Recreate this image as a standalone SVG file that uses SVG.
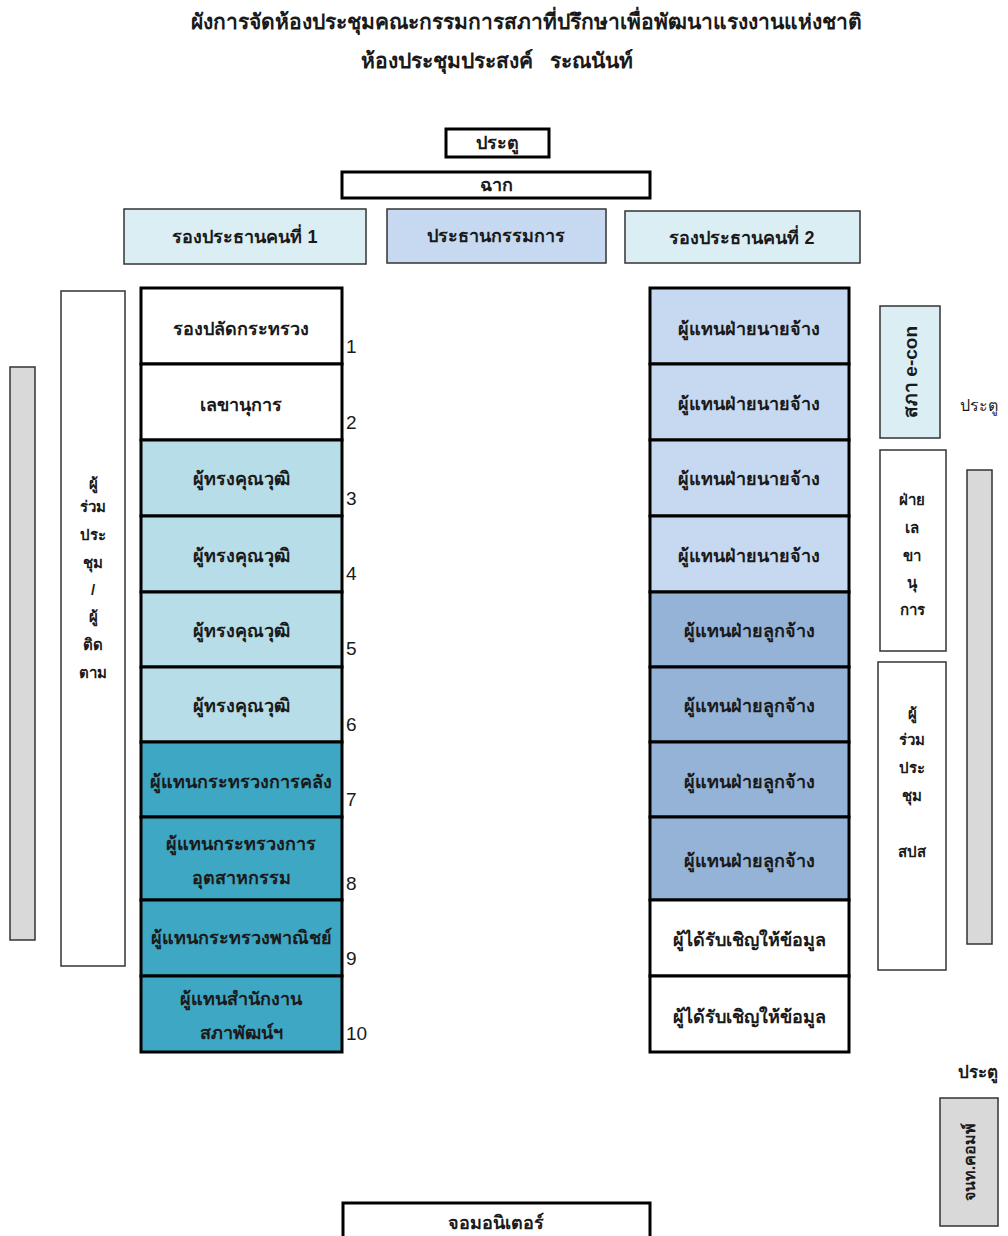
<svg xmlns="http://www.w3.org/2000/svg" width="1008" height="1236" viewBox="0 0 1008 1236">
<style>
text{font-family:"Liberation Sans","DejaVu Sans","Noto Sans",sans-serif;fill:#1a1a1a}
.t{font-size:21px;font-weight:bold;text-anchor:middle}
.b{font-size:18px;font-weight:bold;text-anchor:middle}
.n{font-size:19px;text-anchor:start}
.s{font-size:15px;font-weight:bold;text-anchor:middle}
.thick{stroke:#000;stroke-width:3}
.thin{stroke:#333;stroke-width:1.5}
.w{fill:#fff}.c1{fill:#DAEEF3}.c2{fill:#C6D9F1}.q{fill:#B7DDE8}.tl{fill:#3EA7C3}.lb{fill:#C6D9F1}.db{fill:#95B3D7}.g{fill:#D9D9D9}
</style>
<rect width="1008" height="1236" fill="#fff"/>
<g id="title">
<text class="t" x="526" y="29">ผังการจัดห้องประชุมคณะกรรมการสภาที่ปรึกษาเพื่อพัฒนาแรงงานแห่งชาติ</text>
<text class="t" x="497" y="68" xml:space="preserve">ห้องประชุมประสงค์   ระณนันท์</text>
</g>
<g id="door-top"><rect class="w thick" x="446" y="129" width="103" height="28"/><text class="b" x="497" y="149">ประตู</text></g>
<g id="screen"><rect class="w thick" x="342" y="172" width="308" height="26"/><text class="b" x="496" y="191">ฉาก</text></g>
<g id="vice1"><rect class="c1 thin" x="124" y="209" width="242" height="55"/><text class="b" x="245" y="243">รองประธานคนที่ 1</text></g>
<g id="chair"><rect class="c2 thin" x="387" y="209" width="219" height="54"/><text class="b" x="496" y="242">ประธานกรรมการ</text></g>
<g id="vice2"><rect class="c1 thin" x="625" y="211" width="235" height="52"/><text class="b" x="742" y="244">รองประธานคนที่ 2</text></g>

<g id="left-column">
<g id="L1"><rect class="w thick" x="141" y="288" width="201" height="76"/><text class="b" x="241" y="335">รองปลัดกระทรวง</text><text class="n" x="346" y="353">1</text></g>
<g id="L2"><rect class="w thick" x="141" y="364" width="201" height="76"/><text class="b" x="241" y="411">เลขานุการ</text><text class="n" x="346" y="429">2</text></g>
<g id="L3"><rect class="q thick" x="141" y="440" width="201" height="76"/><text class="b" x="241" y="485">ผู้ทรงคุณวุฒิ</text><text class="n" x="346" y="505">3</text></g>
<g id="L4"><rect class="q thick" x="141" y="516" width="201" height="76"/><text class="b" x="241" y="562">ผู้ทรงคุณวุฒิ</text><text class="n" x="346" y="580">4</text></g>
<g id="L5"><rect class="q thick" x="141" y="592" width="201" height="75"/><text class="b" x="241" y="637">ผู้ทรงคุณวุฒิ</text><text class="n" x="346" y="655">5</text></g>
<g id="L6"><rect class="q thick" x="141" y="667" width="201" height="75"/><text class="b" x="241" y="712">ผู้ทรงคุณวุฒิ</text><text class="n" x="346" y="731">6</text></g>
<g id="L7"><rect class="tl thick" x="141" y="742" width="201" height="75"/><text class="b" x="241" y="788">ผู้แทนกระทรวงการคลัง</text><text class="n" x="346" y="806">7</text></g>
<g id="L8"><rect class="tl thick" x="141" y="817" width="201" height="83"/><text class="b" x="241" y="850">ผู้แทนกระทรวงการ</text><text class="b" x="241" y="884">อุตสาหกรรม</text><text class="n" x="346" y="890">8</text></g>
<g id="L9"><rect class="tl thick" x="141" y="900" width="201" height="76"/><text class="b" x="241" y="944">ผู้แทนกระทรวงพาณิชย์</text><text class="n" x="346" y="965">9</text></g>
<g id="L10"><rect class="tl thick" x="141" y="976" width="201" height="76"/><text class="b" x="241" y="1005">ผู้แทนสำนักงาน</text><text class="b" x="241" y="1039">สภาพัฒน์ฯ</text><text class="n" x="346" y="1040">10</text></g>
</g>

<g id="right-column">
<g id="R1"><rect class="lb thick" x="650" y="288" width="199" height="76"/><text class="b" x="749" y="335">ผู้แทนฝ่ายนายจ้าง</text></g>
<g id="R2"><rect class="lb thick" x="650" y="364" width="199" height="76"/><text class="b" x="749" y="410">ผู้แทนฝ่ายนายจ้าง</text></g>
<g id="R3"><rect class="lb thick" x="650" y="440" width="199" height="76"/><text class="b" x="749" y="485">ผู้แทนฝ่ายนายจ้าง</text></g>
<g id="R4"><rect class="lb thick" x="650" y="516" width="199" height="76"/><text class="b" x="749" y="562">ผู้แทนฝ่ายนายจ้าง</text></g>
<g id="R5"><rect class="db thick" x="650" y="592" width="199" height="75"/><text class="b" x="749" y="637">ผู้แทนฝ่ายลูกจ้าง</text></g>
<g id="R6"><rect class="db thick" x="650" y="667" width="199" height="75"/><text class="b" x="749" y="712">ผู้แทนฝ่ายลูกจ้าง</text></g>
<g id="R7"><rect class="db thick" x="650" y="742" width="199" height="75"/><text class="b" x="749" y="788">ผู้แทนฝ่ายลูกจ้าง</text></g>
<g id="R8"><rect class="db thick" x="650" y="817" width="199" height="83"/><text class="b" x="749" y="867">ผู้แทนฝ่ายลูกจ้าง</text></g>
<g id="R9"><rect class="w thick" x="650" y="900" width="199" height="76"/><text class="b" x="749" y="946">ผู้ได้รับเชิญให้ข้อมูล</text></g>
<g id="R10"><rect class="w thick" x="650" y="976" width="199" height="76"/><text class="b" x="749" y="1023">ผู้ได้รับเชิญให้ข้อมูล</text></g>
</g>

<g id="left-bar"><rect class="g thin" x="10" y="367" width="25" height="573"/></g>
<g id="observers-left"><rect class="w thin" x="61" y="291" width="64" height="675"/>
<text class="s" x="93" y="489">ผู้</text><text class="s" x="93" y="512">ร่วม</text><text class="s" x="93" y="540">ประ</text><text class="s" x="93" y="568">ชุม</text><text class="s" x="93" y="595">/</text><text class="s" x="93" y="622">ผู้</text><text class="s" x="93" y="650">ติด</text><text class="s" x="93" y="678">ตาม</text>
</g>

<g id="econ"><rect class="c1 thin" x="880" y="306" width="60" height="132"/><text class="b" style="font-size:19px" transform="translate(917 372) rotate(-90)">สภา e-con</text></g>
<g id="door-right"><text x="960" y="411" style="font-size:16px">ประตู</text></g>
<g id="secretariat"><rect class="w thin" x="880" y="450" width="66" height="201"/>
<text class="s" x="912" y="505">ฝ่าย</text><text class="s" x="912" y="533">เล</text><text class="s" x="912" y="561">ขา</text><text class="s" x="912" y="588">นุ</text><text class="s" x="912" y="615">การ</text>
</g>
<g id="right-bar"><rect class="g thin" x="967" y="470" width="25" height="474"/></g>
<g id="observers-sso"><rect class="w thin" x="878" y="662" width="68" height="308"/>
<text class="s" x="912" y="719">ผู้</text><text class="s" x="912" y="745">ร่วม</text><text class="s" x="912" y="773">ประ</text><text class="s" x="912" y="801">ชุม</text><text class="s" x="912" y="857">สปส</text>
</g>
<g id="door-bottom"><text x="958" y="1078" style="font-size:17px;font-weight:bold">ประตู</text></g>
<g id="it-staff"><rect class="g thin" x="940" y="1098" width="58" height="128"/><text class="s" style="font-size:16px" transform="translate(975 1162) rotate(-90)">จนท.คอมพ์</text></g>
<g id="monitor"><rect class="w thick" x="343" y="1203" width="307" height="40"/><text class="b" x="496" y="1229">จอมอนิเตอร์</text></g>
<g id="connectors"></g>
</svg>
